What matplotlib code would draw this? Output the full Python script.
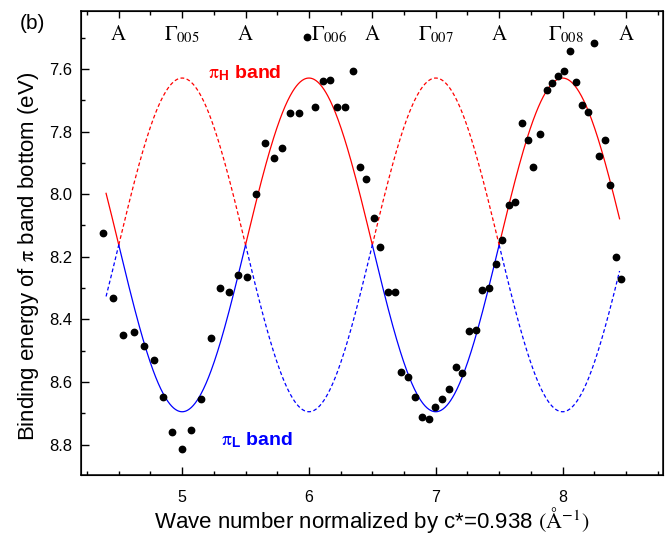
"""
Binding energy of the pi band bottom against normalized wave number,
with the two folded cosine bands (pi_H and pi_L).
"""

import matplotlib.pyplot as plt
import numpy as np
from matplotlib.ticker import MultipleLocator

plt.rcParams['mathtext.fontset'] = 'stix'
plt.rcParams['font.family'] = ['Liberation Sans', 'DejaVu Sans']

k_meas = [4.379, 4.455, 4.534, 4.618, 4.697, 4.776, 4.850, 4.923, 4.997, 5.073,
          5.150, 5.226, 5.300, 5.371, 5.442, 5.510, 5.584, 5.655, 5.721, 5.784,
          5.852, 5.918, 5.987, 6.044, 6.107, 6.165, 6.223, 6.284, 6.350, 6.399,
          6.452, 6.510, 6.562, 6.620, 6.676, 6.728, 6.781, 6.833, 6.891, 6.944,
          6.997, 7.052, 7.104, 7.157, 7.210, 7.262, 7.315, 7.368, 7.420, 7.473,
          7.526, 7.575, 7.625, 7.678, 7.728, 7.770, 7.822, 7.875, 7.920, 7.968,
          8.015, 8.062, 8.107, 8.154, 8.199, 8.249, 8.286, 8.336, 8.373, 8.418,
          8.459]
e_meas = [8.123, 8.333, 8.451, 8.440, 8.486, 8.531, 8.648, 8.760, 8.813, 8.754,
          8.655, 8.458, 8.299, 8.313, 8.257, 8.265, 8.001, 7.837, 7.883, 7.854,
          7.742, 7.740, 7.497, 7.723, 7.640, 7.635, 7.721, 7.721, 7.606, 7.913,
          7.953, 8.077, 8.168, 8.312, 8.312, 8.568, 8.583, 8.647, 8.713, 8.718,
          8.681, 8.653, 8.623, 8.552, 8.572, 8.438, 8.433, 8.306, 8.301, 8.224,
          8.147, 8.035, 8.025, 7.773, 7.827, 7.913, 7.808, 7.667, 7.645, 7.622,
          7.608, 7.542, 7.643, 7.716, 7.738, 7.518, 7.878, 7.826, 7.970, 8.202,
          8.271]

# model bands: E = center -/+ halfwidth * |cos(pi k)|
band_center = 8.162
band_halfwidth = 0.533
zone_edges = [4.4, 4.5, 5.5, 6.5, 7.5, 8.45]

# symmetry point labels along the top
sym_labels = [r'\mathrm{A}', r'\Gamma_{005}', r'\mathrm{A}', r'\Gamma_{006}',
              r'\mathrm{A}', r'\Gamma_{007}', r'\mathrm{A}', r'\Gamma_{008}',
              r'\mathrm{A}']
sym_k = [4.5, 5.0, 5.5, 6.16, 6.5, 7.0, 7.5, 8.03, 8.5]

fig = plt.figure(figsize=(6.71, 5.37), dpi=100)
ax = fig.add_axes([0.1203, 0.1155, 0.8673, 0.8645])

for i in range(len(zone_edges) - 1):
    k = np.linspace(zone_edges[i], zone_edges[i + 1], 200)
    e_h = band_center - band_halfwidth * np.abs(np.cos(np.pi * k))
    e_l = band_center + band_halfwidth * np.abs(np.cos(np.pi * k))
    high_solid = (i % 2 == 0)
    ax.plot(k, e_h, color='red', lw=0.9,
            linestyle='-' if high_solid else (0, (3, 2)), zorder=2)
    ax.plot(k, e_l, color='blue', lw=0.9,
            linestyle=(0, (3, 2)) if high_solid else '-', zorder=2)

ax.plot(k_meas, e_meas, 'o', color='black', ms=4.6, zorder=3)

ax.set_xlim(4.2, 8.79)
ax.set_ylim(8.897, 7.414)

ax.xaxis.set_major_locator(MultipleLocator(1))
ax.xaxis.set_minor_locator(MultipleLocator(0.25))
ax.yaxis.set_major_locator(MultipleLocator(0.2))
ax.yaxis.set_minor_locator(MultipleLocator(0.1))
ax.yaxis.set_major_formatter('{x:.1f}')
ax.tick_params(which='both', direction='in', width=1.0, top=False, right=False)
ax.tick_params(which='major', length=6)
ax.tick_params(which='minor', length=3)
ax.tick_params(axis='x', labelsize=11.5, pad=11)
ax.tick_params(axis='y', labelsize=12, pad=6)
for s in ax.spines.values():
    s.set_linewidth(1.1)

top = ax.twiny()
top.set_xlim(ax.get_xlim())
top.xaxis.set_major_locator(MultipleLocator(0.5))
top.xaxis.set_minor_locator(MultipleLocator(0.25))
top.tick_params(which='both', direction='in', width=1.0, labeltop=False)
top.tick_params(which='major', length=5)
top.tick_params(which='minor', length=3)

for lab, k in zip(sym_labels, sym_k):
    ax.text(k, 7.507, '$' + lab + '$', ha='center', va='baseline', fontsize=15)

ax.text(5.2, 7.613, r'$\mathrm{\pi}_{\mathregular{H}}$ band', color='red',
        fontsize=14, fontweight='bold', va='center')
ax.text(5.31, 8.785, r'$\mathrm{\pi}_{\mathregular{L}}$ band', color='blue',
        fontsize=14, fontweight='bold', va='center')

ax.set_xlabel(r'Wave number normalized by c*=0.938 $(\mathrm{\AA}^{-1})$',
              fontsize=16, labelpad=0)
ax.set_ylabel(r'Binding energy of $\mathrm{\pi}$ band bottom (eV)',
              fontsize=16)
ax.yaxis.set_label_coords(-0.068, 0.47)

fig.text(0.049, 0.957, '(b)', fontsize=15, ha='center', va='center')

fig.savefig('out.png', dpi=100)
